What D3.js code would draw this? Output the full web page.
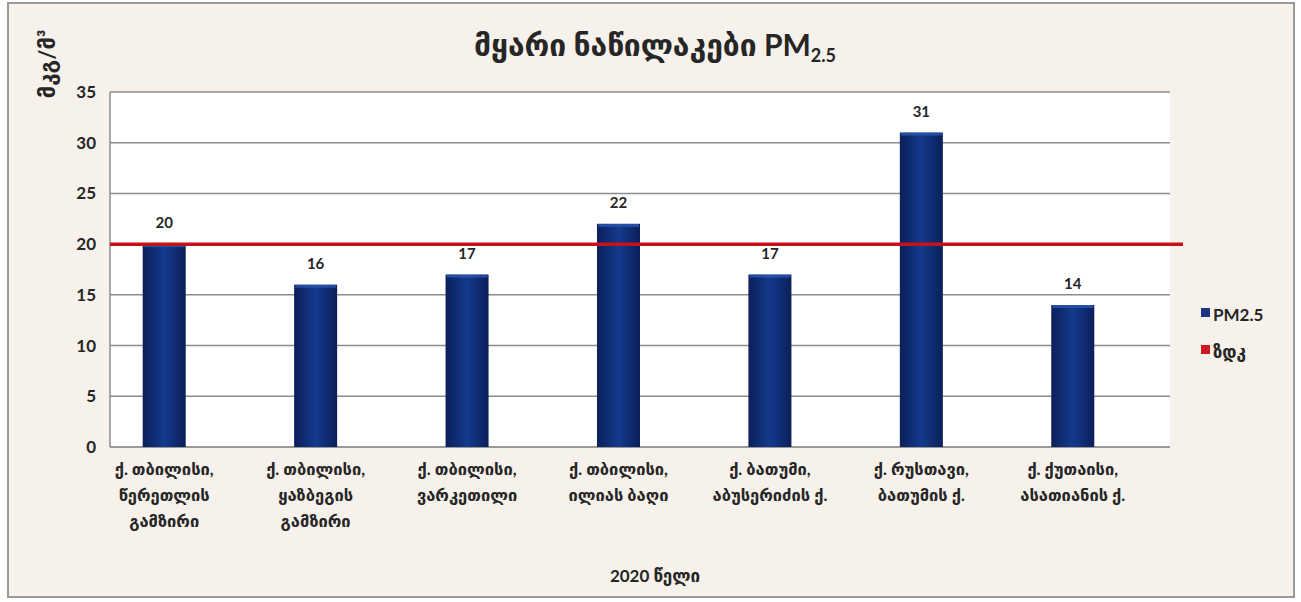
<!DOCTYPE html>
<html><head><meta charset="utf-8">
<script src="https://cdn.jsdelivr.net/npm/d3@7"></script>
<style>
body{margin:0;background:#fff;}
svg{display:block;}
text{font-family:"Lato","DejaVu Sans",sans-serif;font-weight:bold;fill:#262626;}
</style></head><body>
<svg id="chart" width="1301" height="602"></svg>
<script>
const categories = [
  ["ქ. თბილისი,", "წერეთლის", "გამზირი"],
  ["ქ. თბილისი,", "ყაზბეგის", "გამზირი"],
  ["ქ. თბილისი,", "ვარკეთილი"],
  ["ქ. თბილისი,", "ილიას ბაღი"],
  ["ქ. ბათუმი,", "აბუსერიძის ქ."],
  ["ქ. რუსთავი,", "ბათუმის ქ."],
  ["ქ. ქუთაისი,", "ასათიანის ქ."]
];
const pm25 = [20, 16, 17, 22, 17, 31, 14];
const limitValue = 20;
const seriesNames = ["PM2.5", "ზდკ"];
const yTicks = [0, 5, 10, 15, 20, 25, 30, 35];
const titleMain = "მყარი  ნაწილაკები  PM";
const titleSub = "2.5";
const yTitle = "მკგ/მ³";
const xTitle = "2020 წელი";

const svg = d3.select("#chart");
const defs = svg.append("defs");
const g1 = defs.append("linearGradient").attr("id","barGrad").attr("x1","0").attr("x2","1").attr("y1","0").attr("y2","0");
g1.append("stop").attr("offset","0").attr("stop-color","#0b1f5a");
g1.append("stop").attr("offset","0.5").attr("stop-color","#143a8c");
g1.append("stop").attr("offset","1").attr("stop-color","#0b1f5a");

// outer frame
svg.append("rect").attr("x",8).attr("y",3).attr("width",1286).attr("height",594)
  .attr("fill","#f6f1eb").attr("stroke","#9a9a9a").attr("stroke-width",2);

const plot = {left:110, right:1170, top:92, bottom:447};
const x0 = d3.scaleBand().domain(d3.range(categories.length)).range([plot.left, plot.right]);
const x1 = d3.scaleBand().domain(seriesNames).range([0, x0.bandwidth()]).paddingInner(0).paddingOuter(0.76);
const y = d3.scaleLinear().domain([0,35]).range([plot.bottom, plot.top]);

svg.append("rect").attr("x",plot.left).attr("y",plot.top).attr("width",plot.right-plot.left).attr("height",plot.bottom-plot.top).attr("fill","#ffffff");

// gridlines
svg.append("g").selectAll("line").data(yTicks).join("line")
  .attr("x1",plot.left).attr("x2",plot.right)
  .attr("y1",d=>y(d)).attr("y2",d=>y(d))
  .attr("stroke",d=>d===0?"#7a7a7a":"#8c8c8c").attr("stroke-width",1.5);
svg.append("line").attr("x1",plot.left).attr("x2",plot.left).attr("y1",plot.top).attr("y2",plot.bottom)
  .attr("stroke","#8c8c8c").attr("stroke-width",1.5);

// y axis labels
const yAxis = d3.axisLeft(y).tickValues(yTicks).tickSize(0).tickPadding(14);
const ya = svg.append("g").attr("transform",`translate(${plot.left},0)`).call(yAxis);
ya.select(".domain").remove();
ya.selectAll("text").attr("font-size",17).style("font-family",'"Lato","DejaVu Sans",sans-serif').attr("fill","#262626");

// bars
const barX = i => x0(i) + x1("PM2.5");
const bw = x1.bandwidth();
svg.append("g").selectAll("rect").data(pm25).join("rect")
  .attr("x",(d,i)=>barX(i)).attr("width",bw)
  .attr("y",d=>y(d)).attr("height",d=>y(0)-y(d))
  .attr("fill","url(#barGrad)");
svg.append("g").selectAll("rect").data(pm25).join("rect")
  .attr("x",(d,i)=>barX(i)+1).attr("width",bw-2)
  .attr("y",d=>y(d)).attr("height",3)
  .attr("fill","#2a56b0").attr("opacity",0.8);

// value labels
svg.append("g").selectAll("text").data(pm25).join("text")
  .attr("x",(d,i)=>barX(i)+bw/2).attr("y",d=>y(d)-16)
  .attr("text-anchor","middle").attr("font-size",15).text(d=>d);

// limit line
svg.append("line").attr("x1",plot.left).attr("x2",1183)
  .attr("y1",y(limitValue)).attr("y2",y(limitValue))
  .attr("stroke","#c3121b").attr("stroke-width",3.5);

// category labels
const cg = svg.append("g").selectAll("text").data(categories).join("text")
  .attr("text-anchor","middle").attr("font-size",16.5);
cg.each(function(lines,i){
  d3.select(this).selectAll("tspan").data(lines).join("tspan")
    .attr("x",barX(i)+bw/2).attr("y",(d,j)=>475+j*26).text(d=>d);
});

// title
const t = svg.append("text").attr("x",655).attr("y",56).attr("text-anchor","middle").attr("font-size",30);
t.append("tspan").text(titleMain);
t.append("tspan").attr("font-size",18).attr("dy",6).text(titleSub);

// y title
svg.append("text").attr("transform","translate(55,64) rotate(-90)").attr("text-anchor","middle").attr("font-size",22).text(yTitle);

// x title
svg.append("text").attr("x",655).attr("y",582).attr("text-anchor","middle").attr("font-size",17).text(xTitle);

// legend
const legColors = ["#1a3480","#cc1a22"];
const lg = svg.append("g").selectAll("g").data(seriesNames).join("g")
  .attr("transform",(d,i)=>`translate(1201,${316+i*37})`);
lg.append("rect").attr("x",0).attr("y",-8).attr("width",9).attr("height",9).attr("fill",(d,i)=>legColors[i]);
lg.append("text").attr("x",12).attr("y",1).attr("font-size",17).attr("dominant-baseline","middle").text(d=>d);
</script>
</body></html>
